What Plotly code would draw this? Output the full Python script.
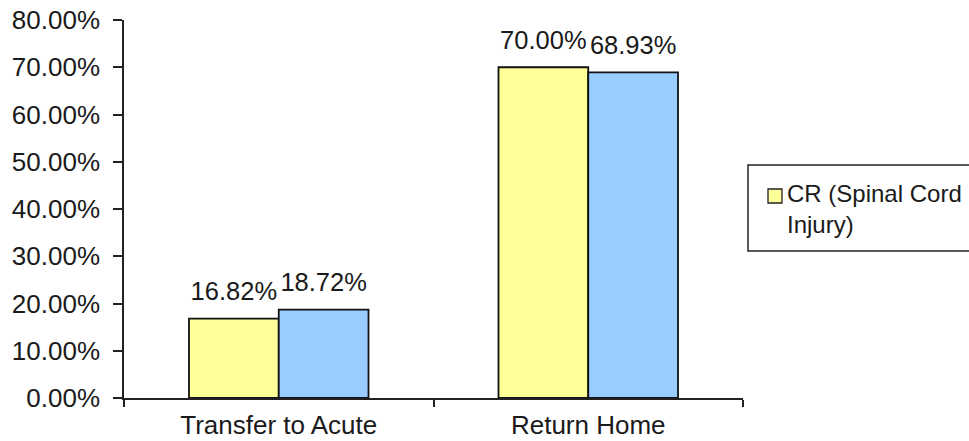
import plotly.graph_objects as go

categories = ["Transfer to Acute", "Return Home"]
cr_values = [0.1682, 0.7000]
other_values = [0.1872, 0.6893]
cr_name = "CR (Spinal Cord Injury)"
cr_legend_text = "CR (Spinal Cord<br>Injury)"
other_name = "Nation (Spinal Cord Injury)"
y_ticks = [0, 0.1, 0.2, 0.3, 0.4, 0.5, 0.6, 0.7, 0.8]

FONT = "Arial, Liberation Sans, sans-serif"
TXT = "#1a1a1a"
YELLOW = "#FFFF99"
BLUE = "#99CCFF"

W, H = 969, 441
L, R, T, B = 124, 226, 20, 43
PW, PH = W - L - R, H - T - B


def px(x):
    return (x - L) / PW


def py(y):
    return (H - B - y) / PH


GAP = 0.42

fig = go.Figure()
for vals, name, color, grp in [(cr_values, cr_name, YELLOW, "a"),
                               (other_values, other_name, BLUE, "b")]:
    fig.add_trace(go.Bar(
        x=categories, y=vals, name=name, showlegend=False,
        offsetgroup=grp, alignmentgroup="g",
        marker=dict(color=color, line=dict(color="#111111", width=1.8)),
    ))
for vals, name, grp in [(cr_values, cr_name, "a"),
                        (other_values, other_name, "b")]:
    fig.add_trace(go.Scatter(
        x=categories, y=vals, name=name, showlegend=False,
        offsetgroup=grp, alignmentgroup="g",
        mode="markers+text", marker=dict(size=18, color="rgba(0,0,0,0)"),
        text=[f"{v*100:.2f}%" for v in vals], textposition="top center",
        textfont=dict(family=FONT, size=25.5, color=TXT), cliponaxis=False,
        hoverinfo="skip",
    ))

fig.update_layout(
    width=W, height=H,
    margin=dict(l=L, r=R, t=T, b=B),
    paper_bgcolor="white", plot_bgcolor="white",
    barmode="group", bargap=GAP, bargroupgap=0,
    scattermode="group", scattergap=GAP,
    font=dict(family=FONT, color=TXT),
    showlegend=False,
    xaxis=dict(showline=True, linecolor="#222", linewidth=1.5,
               ticks="outside", ticklen=7, tickcolor="#222", tickwidth=1.5,
               tickson="boundaries", showgrid=False, automargin=False,
               ticklabelstandoff=3, ticklabeloverflow="allow",
               tickfont=dict(family=FONT, size=26, color=TXT)),
    yaxis=dict(range=[0, 0.8], tickvals=y_ticks, tickformat=".2%",
               showline=True, linecolor="#222", linewidth=1.5,
               ticks="outside", ticklen=9, tickcolor="#222", tickwidth=1.5,
               showgrid=False, zeroline=False, automargin=False,
               ticklabelstandoff=8, ticklabeloverflow="allow",
               tickfont=dict(family=FONT, size=26, color=TXT)),
    shapes=[
        dict(type="rect", xref="paper", yref="paper",
             x0=px(748), x1=px(995), y0=py(251), y1=py(165),
             line=dict(color="#222", width=1.5), fillcolor="rgba(0,0,0,0)"),
        dict(type="rect", xref="paper", yref="paper",
             x0=px(768), x1=px(782), y0=py(203), y1=py(189),
             line=dict(color="#222", width=1.3), fillcolor=YELLOW),
    ],
    annotations=[
        dict(text=cr_legend_text, xref="paper", yref="paper",
             x=px(785), y=py(209), xanchor="left", yanchor="middle",
             align="left", showarrow=False,
             font=dict(family=FONT, size=24, color=TXT)),
    ],
)

fig.write_html("out.html",
               config={"displayModeBar": False},
               post_script="document.body.style.margin='0';document.body.style.overflow='hidden';")
